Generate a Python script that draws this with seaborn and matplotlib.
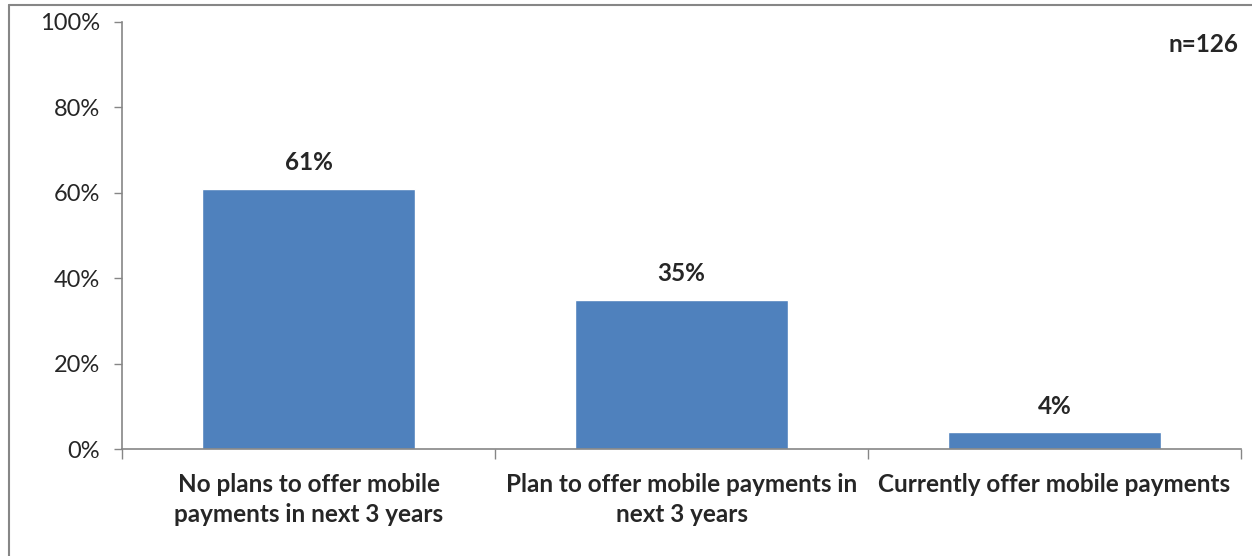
import matplotlib
matplotlib.use("Agg")
import matplotlib.pyplot as plt
from matplotlib.lines import Line2D
import seaborn as sns
import pandas as pd

categories = [
    "No plans to offer mobile\npayments in next 3 years",
    "Plan to offer mobile payments in\nnext 3 years",
    "Currently offer mobile payments",
]
values = [61, 35, 4]
y_ticks = [0, 20, 40, 60, 80, 100]
sample_note = "n=126"

sns.set_theme(style="white")
plt.rcParams["font.family"] = ["Lato", "DejaVu Sans"]

df = pd.DataFrame({"category": categories, "value": values})

fig = plt.figure(figsize=(12.52, 5.56), dpi=100)
ax = fig.add_axes([122 / 1252, 1 - 449 / 556, (1241 - 122) / 1252, (449 - 22) / 556])

sns.barplot(data=df, x="category", y="value", color="#4F81BD", saturation=1,
            width=0.57, ax=ax)

ax.set_xlim(-0.5, len(categories) - 0.5)
ax.set_ylim(0, 100)
ax.set_yticks(y_ticks)
ax.set_yticklabels([f"{t}%" for t in y_ticks], fontsize=17)
ax.set_xlabel("")
ax.set_ylabel("")

# category labels, bold, centred under each bar
ax.set_xticks(range(len(categories)))
ax.set_xticklabels(categories, fontsize=17.5, fontweight="bold", linespacing=1.4)
ax.tick_params(axis="x", length=0, pad=17)
ax.tick_params(axis="y", length=6, width=1, color="#868686", direction="out",
               left=True, pad=10)

# minor ticks at category boundaries
boundaries = [i - 0.5 for i in range(len(categories) + 1)]
ax.set_xticks(boundaries, minor=True)
ax.tick_params(axis="x", which="minor", length=7, width=1, color="#868686",
               direction="out", bottom=True)

for side in ["top", "right"]:
    ax.spines[side].set_visible(False)
for side in ["left", "bottom"]:
    ax.spines[side].set_color("#868686")
    ax.spines[side].set_linewidth(1.2)

# value labels
for i, v in enumerate(values):
    ax.text(i, v + 3.3, f"{v}%", ha="center", va="bottom", fontsize=17.5,
            fontweight="bold")

fig.text(1238 / 1252, 1 - 45 / 556, sample_note, ha="right", va="center",
         fontsize=17.5, fontweight="bold")

# outer frame of the chart area
fig.add_artist(Line2D([8.5 / 1252, 8.5 / 1252], [0, 1 - 5 / 556],
                      color="#868686", lw=1.5, transform=fig.transFigure))
fig.add_artist(Line2D([8.5 / 1252, 1], [1 - 5 / 556, 1 - 5 / 556],
                      color="#868686", lw=1.5, transform=fig.transFigure))

fig.savefig("out.png", dpi=100)
